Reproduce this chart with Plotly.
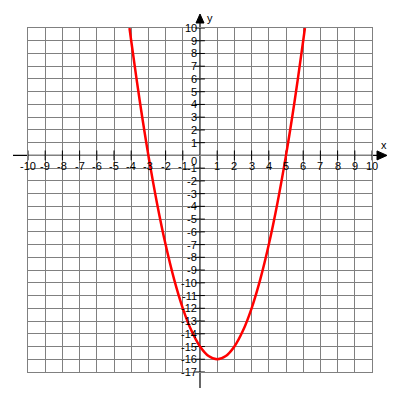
import plotly.graph_objects as go

# Curve points
curve_x = [-4.1, -4, -3.5, -3, -2.5, -2, -1.5, -1, -0.5, 0, 0.5, 1, 1.5, 2, 2.5, 3, 3.5, 4, 4.5, 5, 5.5, 6, 6.1]
curve_y = [10, 9, 4.25, 0, -3.75, -7, -9.75, -12, -13.75, -15, -15.75, -16, -15.75, -15, -13.75, -12, -9.75, -7, -3.75, 0, 4.25, 9, 10]

x_ticks = list(range(-10, 11))
y_ticks = list(range(-17, 11))
x_range = [-10, 10]
y_range = [-17, 10]

# page body has an 8px margin; figure sized so the plot area lands at 28..372
W, H, M = 384, 384, 20
PW = W - 2 * M
PH = H - 2 * M

def px_to_paper_x(dx):
    return dx / PW

def px_to_paper_y(dy):
    return dy / PH

x0p = (0 - x_range[0]) / (x_range[1] - x_range[0])
y0p = (0 - y_range[0]) / (y_range[1] - y_range[0])

fig = go.Figure()

# axis tick marks
tx = [v for v in x_ticks if v != 0]
fig.add_trace(go.Scatter(x=tx, y=[0] * len(tx), mode="markers",
                         marker=dict(symbol="line-ns", size=7, color="black",
                                     line=dict(color="black", width=1)),
                         cliponaxis=False, hoverinfo="skip", showlegend=False))
ty = [v for v in y_ticks if v != 0]
fig.add_trace(go.Scatter(x=[0] * len(ty), y=ty, mode="markers",
                         marker=dict(symbol="line-ew", size=7, color="black",
                                     line=dict(color="black", width=1)),
                         cliponaxis=False, hoverinfo="skip", showlegend=False))

fig.add_trace(go.Scatter(x=curve_x, y=curve_y, mode="lines",
                         line=dict(color="#ff0000", width=2.5, shape="spline"),
                         hoverinfo="skip", showlegend=False))

shapes = [
    # x axis line
    dict(type="line", xref="paper", yref="paper", x0=px_to_paper_x(-15), x1=1 + px_to_paper_x(8),
         y0=y0p, y1=y0p, line=dict(color="black", width=1.2), layer="between"),
    # y axis line
    dict(type="line", xref="paper", yref="paper", x0=x0p, x1=x0p,
         y0=px_to_paper_y(-16), y1=1 + px_to_paper_y(8), line=dict(color="black", width=1.2), layer="between"),
]
# arrow heads
ax_tip = 1 + px_to_paper_x(15)
ax_base = 1 + px_to_paper_x(5)
hh = px_to_paper_y(4.5)
shapes.append(dict(type="path", xref="paper", yref="paper",
                   path=f"M {ax_base} {y0p - hh} L {ax_tip} {y0p} L {ax_base} {y0p + hh} Z",
                   fillcolor="black", line=dict(color="black", width=1)))
ay_tip = 1 + px_to_paper_y(14)
ay_base = 1 + px_to_paper_y(5)
hw = px_to_paper_x(4)
shapes.append(dict(type="path", xref="paper", yref="paper",
                   path=f"M {x0p - hw} {ay_base} L {x0p} {ay_tip} L {x0p + hw} {ay_base} Z",
                   fillcolor="black", line=dict(color="black", width=1)))

font = dict(family="Liberation Sans, Arial, sans-serif", size=11, color="black")
annotations = []
for v in x_ticks:
    if v == 0:
        continue
    annotations.append(dict(x=v, y=0, xref="x", yref="y", text=str(v), showarrow=False,
                            font=font, xanchor="center", yanchor="middle", yshift=-11))
for v in y_ticks:
    if v == 0:
        continue
    annotations.append(dict(x=0, y=v, xref="x", yref="y", text=str(v), showarrow=False,
                            font=font, xanchor="right", yanchor="middle", xshift=-1))
annotations.append(dict(x=0, y=0, xref="x", yref="y", text="0", showarrow=False,
                        font=font, xanchor="right", yanchor="middle", xshift=-1, yshift=-6))
annotations.append(dict(x=1 + px_to_paper_x(12), y=y0p, xref="paper", yref="paper", text="x",
                        showarrow=False, font=font, xanchor="center", yanchor="middle", yshift=10))
annotations.append(dict(x=x0p, y=1 + px_to_paper_y(10), xref="paper", yref="paper", text="y",
                        showarrow=False, font=font, xanchor="left", yanchor="middle", xshift=5))

grid = "#808080"
fig.update_layout(
    width=W, height=H,
    margin=dict(l=M, r=M, t=M, b=M, autoexpand=False),
    paper_bgcolor="white", plot_bgcolor="white",
    xaxis=dict(range=x_range, tickvals=x_ticks, showticklabels=False, showgrid=True,
               gridcolor=grid, gridwidth=1, zeroline=False, showline=True, linecolor=grid,
               linewidth=1, mirror=True, ticks=""),
    yaxis=dict(range=y_range, tickvals=y_ticks, showticklabels=False, showgrid=True,
               gridcolor=grid, gridwidth=1, zeroline=False, showline=True, linecolor=grid,
               linewidth=1, mirror=True, ticks=""),
    shapes=shapes,
    annotations=annotations,
    showlegend=False,
)

fig.write_html("out.html")
